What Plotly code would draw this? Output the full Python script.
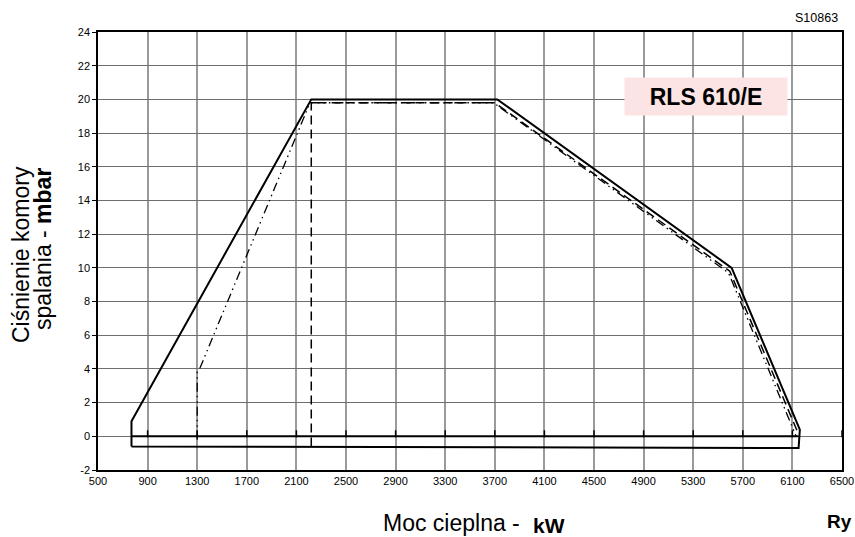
import plotly.graph_objects as go

# Envelope (solid)
solid_x = [770, 770, 2220, 3720, 5610, 6160, 6150, 770]
solid_y = [-0.6, 0.9, 20.0, 20.0, 10.0, 0.4, -0.7, -0.6]
# zero line of the envelope
zero_x = [770, 6150]
zero_y = [0, 0]
# dashed curve
dash_x = [2220, 2220, 3700, 5595, 6145]
dash_y = [-0.6, 19.8, 19.8, 9.8, 0.2]
# dash-dot-dot curve
dd_x = [1300, 1300, 1325, 2210, 3690, 5585, 6130]
dd_y = [-0.2, 3.8, 4.1, 19.8, 19.8, 9.7, 0.0]

x_ticks = list(range(500, 6501, 400))
y_ticks = list(range(-2, 25, 2))
# small tick marks on the zero line
zero_tick_x = [v for v in x_ticks if v > 770]
zero_tick_y = [0.15] * len(zero_tick_x)

FONT = "Arial, Liberation Sans, sans-serif"

W, H = 855, 537
L, R, T, B = 98, 13, 32, 67
pw, ph = W - L - R, H - T - B


def px(x):
    return (x - L) / pw


def py(y):
    return (H - B - y) / ph


fig = go.Figure()
fig.add_trace(go.Scatter(x=dd_x, y=dd_y, mode="lines",
                         line=dict(color="black", width=1.3, dash="9px,4px,1.5px,4px,1.5px,4px"),
                         hoverinfo="skip"))
fig.add_trace(go.Scatter(x=dash_x, y=dash_y, mode="lines",
                         line=dict(color="black", width=1.5, dash="9px,5px"),
                         hoverinfo="skip"))
fig.add_trace(go.Scatter(x=zero_x, y=zero_y, mode="lines",
                         line=dict(color="black", width=2), hoverinfo="skip"))
fig.add_trace(go.Scatter(x=solid_x, y=solid_y, mode="lines",
                         line=dict(color="black", width=2), hoverinfo="skip"))
fig.add_trace(go.Scatter(x=zero_tick_x, y=zero_tick_y, mode="markers",
                         marker=dict(symbol="line-ns", size=5,
                                     line=dict(color="black", width=1.5)),
                         hoverinfo="skip", cliponaxis=False))

annotations = [
    dict(text="S10863", x=px(816), y=py(18), font=dict(size=12.5)),
    dict(text="<b>RLS 610/E</b>", x=px(706), y=py(96),
         bgcolor="#fde4e4", font=dict(size=23), width=160, height=35),
    dict(text="Ciśnienie komory", x=px(21), y=py(255), textangle=-90, font=dict(size=23)),
    dict(text="spalania - <b>mbar</b>", x=px(43), y=py(249), textangle=-90, font=dict(size=23)),
    dict(text="Moc cieplna -", x=px(522), y=py(523), xanchor="right", font=dict(size=23)),
    dict(text="<b>kW</b>", x=px(531), y=py(525), xanchor="left", font=dict(size=21), height=22),
    dict(text="<b>Ry</b>", x=px(825), y=py(521), xanchor="left", font=dict(size=19)),
]
for a in annotations:
    a.setdefault("xanchor", "center")
    a.setdefault("yanchor", "middle")
    a.update(xref="paper", yref="paper", showarrow=False)

fig.update_layout(
    width=W, height=H,
    margin=dict(l=L, r=R, t=T, b=B, autoexpand=False),
    paper_bgcolor="white", plot_bgcolor="white",
    showlegend=False,
    font=dict(family=FONT, size=11, color="black"),
    xaxis=dict(range=[500, 6500], tickvals=x_ticks, ticktext=[str(v) for v in x_ticks],
               showgrid=True, gridcolor="#9a9a9a", gridwidth=1.6,
               showline=True, linecolor="black", linewidth=1.5, mirror=True,
               ticks="", zeroline=False, tickfont=dict(size=11)),
    yaxis=dict(range=[-2, 24], tickvals=y_ticks, ticktext=[str(v) for v in y_ticks],
               showgrid=True, gridcolor="#6e6e6e", gridwidth=1,
               showline=True, linecolor="black", linewidth=1.5, mirror=True,
               ticks="outside", ticklen=4, tickcolor="black", zeroline=False,
               tickfont=dict(size=11)),
    annotations=annotations,
)

fig.write_html("out.html", config={"displayModeBar": False},
               post_script="document.body.style.margin='0px';document.body.style.overflow='hidden';")
